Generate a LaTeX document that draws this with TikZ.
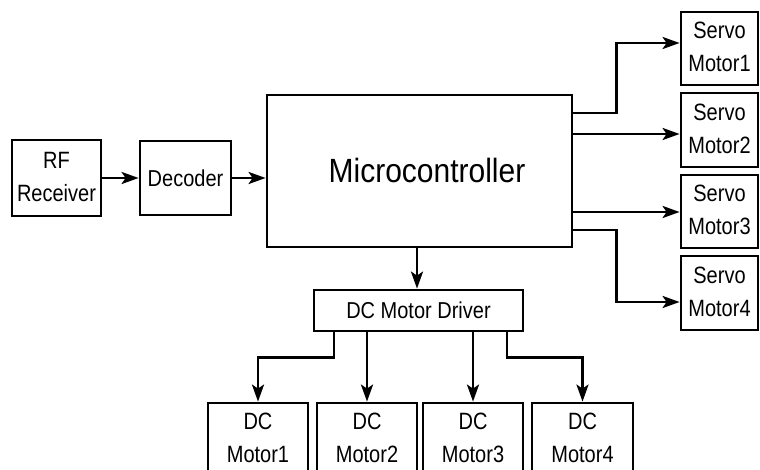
\documentclass[tikz,border=0pt]{standalone}
\usepackage{fontspec}
\setmainfont{Liberation Sans}
\usepackage{graphicx}
\usetikzlibrary{arrows.meta,calc}
\newcommand\twol[2]{\scalebox{1}[1.18]{\begin{tabular}{@{}c@{}}#1\\#2\end{tabular}}}
\newcommand\onel[1]{\scalebox{1}[1.15]{#1}}
\begin{document}
\begin{tikzpicture}[x=1pt,y=-1pt,
 box/.style={draw, line width=2.8pt, inner sep=0pt, fill=white, font=\fontsize{20}{28}\selectfont},
 arr/.style={line width=2.8pt, -{Stealth[length=17pt,width=12pt,inset=4pt]}},
 ln/.style={line width=2.8pt}]
\useasboundingbox (0,0) rectangle (760,470);
\fill[white] (0,0) rectangle (760,470);
\clip (0,0) rectangle (760,470);
% left chain
\node[box, minimum width=89pt, minimum height=76pt] (rf) at (56.5,178) {\twol{RF}{Receiver}};
\node[box, minimum width=91pt, minimum height=74pt] (dec) at (185.5,178) {\onel{Decoder}};
\node[box, minimum width=305pt, minimum height=152pt] (mc) at (419.5,171) {};
\node[font=\fontsize{30}{36}\selectfont, inner sep=0pt] (mct) at (427,170) {\scalebox{1}[1.12]{Microcontroller}};
% servo motors
\node[box, minimum width=77pt, minimum height=73pt] (s1) at (719.5,48.5) {\twol{Servo}{Motor1}};
\node[box, minimum width=77pt, minimum height=74pt] (s2) at (719.5,130) {\twol{Servo}{Motor2}};
\node[box, minimum width=77pt, minimum height=73pt] (s3) at (719.5,211.5) {\twol{Servo}{Motor3}};
\node[box, minimum width=77pt, minimum height=74pt] (s4) at (719.5,293) {\twol{Servo}{Motor4}};
% driver
\node[box, minimum width=209pt, minimum height=41pt] (drv) at (418.5,310.5) {\onel{DC Motor Driver}};
% dc motors
\node[box, minimum width=100pt, minimum height=73pt] (m1) at (258,439.5) {\twol{DC}{Motor1}};
\node[box, minimum width=100pt, minimum height=73pt] (m2) at (367,439.5) {\twol{DC}{Motor2}};
\node[box, minimum width=100pt, minimum height=73pt] (m3) at (473,439.5) {\twol{DC}{Motor3}};
\node[box, minimum width=101pt, minimum height=73pt] (m4) at (582.5,439.5) {\twol{DC}{Motor4}};
% connectors
\draw[arr] (rf.east) -- (dec.west);
\draw[arr] (dec.east) -- (mc.west |- dec.east);
\draw[arr] ($(mc.east)+(0,-58)$) -- ++(43,0) |- ($(s1.west)+(0,-5.5)$);
\draw[arr] ($(mc.east)+(0,-37)$) -- (s2.west |- {$(mc.east)+(0,-37)$});
\draw[arr] ($(mc.east)+(0,41)$) -- (s3.west |- {$(mc.east)+(0,41)$});
\draw[arr] ($(mc.east)+(0,59)$) -- ++(43,0) |- ($(s4.west)+(0,9)$);
\draw[arr] ($(mc.south)+(-2.5,0)$) -- ($(drv.north)+(-1.5,0)$);
\draw[arr] ($(drv.south)+(-84.5,0)$) -- ++(0,25) -| (m1.north);
\draw[arr] (m2.north |- drv.south) -- (m2.north);
\draw[arr] (m3.north |- drv.south) -- (m3.north);
\draw[arr] ($(drv.south)+(88.5,0)$) -- ++(0,25) -| (m4.north);
\end{tikzpicture}
\end{document}
